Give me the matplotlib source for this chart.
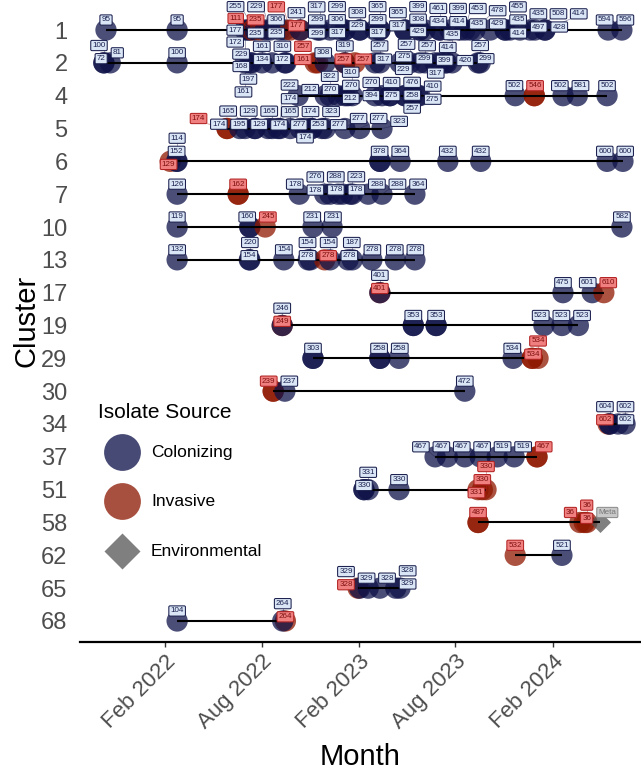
import numpy as np
import pandas as pd
import matplotlib
matplotlib.use("Agg")
import matplotlib.pyplot as plt
import matplotlib.dates as mdates

plt.rcParams['font.family'] = ['Liberation Sans', 'DejaVu Sans']

# ---------------- data ----------------
cluster_order = [1, 2, 4, 5, 6, 7, 10, 13, 17, 19, 29, 30, 34, 37, 51, 58, 62, 65, 68]

point_cluster = ([1] * 49 + [2] * 31 + [4] * 21 + [5] * 19 + [6] * 9 + [7] * 12 + [10] * 6 +
                 [13] * 13 + [17] * 5 + [19] * 7 + [29] * 6 + [30] * 3 + [34] * 4 + [37] * 7 +
                 [51] * 6 + [58] * 5 + [62] * 2 + [65] * 6 + [68] * 3)

point_date = [
    # cluster 1
    '2021-10-12', '2022-02-23', '2022-07-01', '2022-07-07', '2022-07-10', '2022-07-14', '2022-07-20',
    '2022-07-29', '2022-08-08', '2022-08-17', '2022-09-05', '2022-09-14', '2022-09-24', '2022-10-13',
    '2022-10-13', '2022-11-15', '2022-11-19', '2022-12-08', '2022-12-27', '2023-01-05', '2023-01-05',
    '2023-02-02', '2023-02-02', '2023-03-03', '2023-03-12', '2023-03-12', '2023-04-28', '2023-04-28',
    '2023-05-26', '2023-05-26', '2023-06-05', '2023-07-03', '2023-07-03', '2023-07-22', '2023-08-10',
    '2023-08-19', '2023-08-29', '2023-09-07', '2023-10-06', '2023-11-03', '2023-11-03', '2023-11-12',
    '2023-12-01', '2023-12-20', '2023-12-29', '2024-01-17', '2024-01-17', '2024-05-15', '2024-06-10',
    # cluster 2
    '2021-10-08', '2021-10-08', '2021-10-20', '2022-02-23', '2022-07-01', '2022-07-10', '2022-07-14',
    '2022-08-02', '2022-08-21', '2022-09-14', '2022-09-16', '2022-11-10', '2022-11-15', '2022-11-29',
    '2023-01-05', '2023-01-05', '2023-01-24', '2023-03-03', '2023-03-12', '2023-04-19', '2023-04-28',
    '2023-05-08', '2023-05-26', '2023-06-05', '2023-06-24', '2023-07-03', '2023-07-13', '2023-07-16',
    '2023-07-26', '2023-09-13', '2023-09-17',
    # cluster 4
    '2022-10-09', '2022-11-29', '2022-12-08', '2022-12-23', '2023-01-05', '2023-01-11', '2023-01-19',
    '2023-03-03', '2023-03-16', '2023-03-31', '2023-03-31', '2023-04-28', '2023-04-28', '2023-05-12',
    '2023-05-23', '2023-05-26', '2023-11-22', '2023-12-28', '2024-02-20', '2024-03-18', '2024-05-13',
    # cluster 5
    '2022-05-28', '2022-06-21', '2022-07-01', '2022-07-19', '2022-07-20', '2022-08-13', '2022-08-21',
    '2022-09-01', '2022-09-05', '2022-09-24', '2022-10-13', '2022-10-22', '2022-11-03', '2022-11-04',
    '2022-11-23', '2022-11-29', '2023-01-05', '2023-02-02', '2023-03-16',
    # cluster 6
    '2022-02-10', '2022-02-22', '2022-02-23', '2023-03-12', '2023-04-19', '2023-07-18', '2023-09-18',
    '2024-05-13', '2024-06-12',
    # cluster 7
    '2022-02-23', '2022-06-18', '2022-10-11', '2022-11-28', '2022-12-08', '2022-12-23', '2023-01-01',
    '2023-01-15', '2023-01-19', '2023-02-18', '2023-03-16', '2023-05-17',
    # cluster 10
    '2022-02-23', '2022-07-10', '2022-08-08', '2022-11-06', '2022-12-12', '2024-06-10',
    # cluster 13
    '2022-02-23', '2022-07-09', '2022-07-10', '2022-09-12', '2022-10-28', '2022-11-01', '2022-11-28',
    '2022-12-08', '2023-01-11', '2023-01-19', '2023-02-25', '2023-04-10', '2023-05-17',
    # cluster 17
    '2023-03-12', '2023-03-12', '2024-02-20', '2024-04-15', '2024-05-07',
    # cluster 19
    '2022-09-09', '2022-09-09', '2023-05-14', '2023-06-26', '2024-01-15', '2024-02-18', '2024-03-20',
    # cluster 29
    '2022-11-06', '2023-03-12', '2023-04-17', '2023-11-18', '2023-12-24', '2024-01-04',
    # cluster 30
    '2022-08-23', '2022-09-14', '2023-08-19',
    # cluster 34
    '2024-05-15', '2024-05-18', '2024-06-03', '2024-06-16',
    # cluster 37
    '2023-06-24', '2023-07-17', '2023-08-19', '2023-09-17', '2023-10-19', '2023-11-20', '2024-01-02',
    # cluster 51
    '2023-02-10', '2023-02-18', '2023-04-17', '2023-09-13', '2023-09-21', '2023-09-28',
    # cluster 58
    '2023-09-13', '2024-03-23', '2024-03-31', '2024-04-05', '2024-04-30',
    # cluster 62
    '2023-11-22', '2024-02-18',
    # cluster 65
    '2023-01-30', '2023-02-02', '2023-02-18', '2023-03-12', '2023-04-11', '2023-04-19',
    # cluster 68
    '2022-02-23', '2022-09-15', '2022-09-10',
]

point_label = [
    # 1
    '95', '95', '229', '172', '177', '111', '255', '235', '235', '229', '235', '306', '177', '177',
    '241', '299', '317', '299', '317', '306', '299', '229', '308', '317', '299', '365', '317', '365',
    '429', '308', '399', '434', '461', '399', '414', '453', '435', '478', '429', '414', '435', '455',
    '435', '497', '508', '428', '414', '594', '596',
    # 2
    '72', '100', '81', '100', '161', '197', '168', '161', '134', '172', '310', '161', '257', '308',
    '257', '319', '257', '317', '257', '229', '275', '257', '299', '257', '317', '399', '420', '414',
    '435', '299', '257',
    # 4
    '222', '212', '322', '270', '212', '270', '310', '394', '270', '275', '410', '257', '476', '258',
    '275', '410', '502', '546', '502', '581', '502',
    # 5
    '174', '174', '165', '195', '129', '129', '165', '174', '174', '165', '277', '174', '253', '174',
    '277', '323', '277', '277', '323',
    # 6
    '129', '152', '114', '378', '364', '432', '432', '600', '600',
    # 7
    '126', '162', '178', '178', '276', '178', '288', '178', '223', '288', '288', '364',
    # 10
    '119', '160', '245', '231', '231', '582',
    # 13
    '132', '154', '220', '154', '278', '154', '278', '154', '278', '187', '278', '278', '278',
    # 17
    '401', '401', '475', '601', '610',
    # 19
    '249', '246', '353', '353', '523', '523', '523',
    # 29
    '303', '258', '258', '534', '534', '534',
    # 30
    '239', '237', '472',
    # 34
    '602', '604', '602', '602',
    # 37
    '467', '467', '467', '467', '519', '519', '467',
    # 51
    '330', '331', '330', '331', '330', '330',
    # 58
    '487', '36', '36', '36', 'Meta',
    # 62
    '532', '521',
    # 65
    '328', '329', '329', '328', '329', '328',
    # 68
    '104', '264', '264',
]

# C = Colonizing, I = Invasive, E = Environmental (one letter per point, per cluster)
point_source = list(''.join([
    'CCCCCICI' + 'CCCC' + 'II' + 'C' * 35,   # 1
    'C' * 11 + 'IICICI' + 'C' * 14,          # 2
    'C' * 17 + 'I' + 'CCC',                  # 4
    'I' + 'C' * 18,                          # 5
    'I' + 'C' * 8,                           # 6
    'CI' + 'C' * 10,                         # 7
    'CCICCC',                                # 10
    'CCCCCCICCCCCC',                         # 13
    'ICCCI',                                 # 17
    'ICCCCCC',                               # 19
    'CCCCII',                                # 29
    'ICC',                                   # 30
    'ICCC',                                  # 34
    'CCCCCCI',                               # 37
    'CCCIII',                                # 51
    'IIIIE',                                 # 58
    'IC',                                    # 62
    'ICCCCC',                                # 65
    'CIC',                                   # 68
]))

# isolates sharing the same date / position
point_count = [int(c) for c in ''.join([
    '1' * 49,                                # 1
    '1' * 31,                                # 2
    '1' * 17 + '2' + '111',                  # 4
    '2' + '1' * 18,                          # 5
    '111211111',                             # 6
    '12' + '1' * 10,                         # 7
    '121111',                                # 10
    '1' * 13,                                # 13
    '11111',                                 # 17
    '1122111',                               # 19
    '221121',                                # 29
    '211',                                   # 30
    '1211',                                  # 34
    '1111112',                               # 37
    '211111',                                # 51
    '21111',                                 # 58
    '11',                                    # 62
    '111111',                                # 65
    '111',                                   # 68
])]

tick_dates = ['2022-02-01', '2022-08-01', '2023-02-01', '2023-08-01', '2024-02-01']
tick_labels = ['Feb 2022', 'Aug 2022', 'Feb 2023', 'Aug 2023', 'Feb 2024']
legend_names = {'C': 'Colonizing', 'I': 'Invasive', 'E': 'Environmental'}

# ---------------- styles ----------------
pt_color = {'C': '#0E1248', 'I': '#8F1800', 'E': '#555555'}
lab_fc = {'C': '#DAE6F5', 'I': '#F08080', 'E': '#C8C8C8'}
lab_ec = {'C': '#1A1F4E', 'I': '#B22222', 'E': '#8C8C8C'}
lab_tc = {'C': '#1A1F4E', 'I': '#7F1010', 'E': '#777777'}
leg_color = {'C': '#474A74', 'I': '#A8503F', 'E': '#7F7F7F'}

W_PX, H_PX = 641, 771
fig = plt.figure(figsize=(W_PX / 100, H_PX / 100), dpi=100)
ax = fig.add_axes([80 / W_PX, 129 / H_PX, 561 / W_PX, 642 / H_PX])

row_of = {c: i for i, c in enumerate(cluster_order)}
x = mdates.date2num(pd.to_datetime(point_date))
y = np.array([row_of[c] for c in point_cluster], dtype=float)
src = np.array(point_source)
cnt = np.array(point_count)
N = len(x)

ax.set_xlim(mdates.date2num(pd.Timestamp('2021-08-24')), mdates.date2num(pd.Timestamp('2024-07-16')))
ax.set_ylim(18.64, -0.914)

# cluster span lines
for c in cluster_order:
    sel = np.array(point_cluster) == c
    ax.plot([x[sel].min(), x[sel].max()], [row_of[c]] * 2, color='black', lw=1.5,
            zorder=4, solid_capstyle='butt')

# points (repeated for multiple isolates)
circ = src != 'E'
xs = np.repeat(x[circ], cnt[circ])
ys = np.repeat(y[circ], cnt[circ])
cs = np.repeat(np.array([pt_color[s] for s in src[circ]]), cnt[circ])
ax.scatter(xs, ys, s=235, c=list(cs), alpha=0.75, linewidths=0, zorder=3)
env = src == 'E'
ax.scatter(np.repeat(x[env], cnt[env]), np.repeat(y[env], cnt[env]), s=115, marker='D',
           c=pt_color['E'], alpha=0.75, linewidths=0, zorder=3)

# axes styling
for sp in ['top', 'right', 'left']:
    ax.spines[sp].set_visible(False)
ax.spines['bottom'].set_linewidth(1.6)
ax.spines['bottom'].set_color('black')
ax.set_yticks(range(len(cluster_order)))
ax.set_yticklabels([str(c) for c in cluster_order], fontsize=17, color='#4D4D4D')
ax.tick_params(axis='y', length=0, pad=9)
ax.set_xticks(mdates.date2num(pd.to_datetime(tick_dates)))
ax.set_xticklabels(tick_labels, fontsize=16, color='#4D4D4D', rotation=45,
                   ha='right', va='top', rotation_mode='anchor')
ax.tick_params(axis='x', length=3.5, width=1, color='#333333', pad=3)
fig.text(27 / W_PX, 1 - 321 / H_PX, 'Cluster', rotation=90, ha='center', va='center', fontsize=21)
fig.text(360 / W_PX, 1 - 757 / H_PX, 'Month', ha='center', va='center', fontsize=21)

# ---------------- repelled labels ----------------
texts = []
for i in range(N):
    s = src[i]
    t = ax.text(x[i], y[i], point_label[i], fontsize=5.8, ha='center', va='center',
                color=lab_tc[s], zorder=7,
                bbox=dict(boxstyle='round,pad=0.2,rounding_size=0.15', fc=lab_fc[s],
                          ec=lab_ec[s], lw=0.75))
    texts.append(t)
fig.canvas.draw()
renderer = fig.canvas.get_renderer()
sizes = np.array([[b.width, b.height] for b in
                  (t.get_bbox_patch().get_window_extent(renderer) for t in texts)])

disp = ax.transData.transform(np.column_stack([x, y]))
T = disp + np.array([0.0, 10.0])
P = T.copy()
Wb = sizes[:, 0] + 4.0
Hb = sizes[:, 1] + 3.0
PT = 7.0  # obstacle size around each point centre (px)
idx = np.arange(N)
tie = np.sign(idx[:, None] - idx[None, :]).astype(float)
x0, y0, x1, y1 = ax.bbox.extents
n_iter = 2400
for it in range(n_iter):
    dx = P[:, 0][:, None] - P[:, 0][None, :]
    dy = P[:, 1][:, None] - P[:, 1][None, :]
    ox = (Wb[:, None] + Wb[None, :]) / 2 - np.abs(dx)
    oy = (Hb[:, None] + Hb[None, :]) / 2 - np.abs(dy)
    m = (ox > 0) & (oy > 0)
    np.fill_diagonal(m, False)
    sx = np.where(dx != 0, np.sign(dx), tie)
    sy = np.where(dy != 0, np.sign(dy), tie)
    usey = oy <= ox
    fx = np.where(m & ~usey, ox * sx, 0).sum(1)
    fy = np.where(m & usey, oy * sy, 0).sum(1)
    if it < 1400:
        # labels avoid point centres (early phase only)
        qx = P[:, 0][:, None] - disp[:, 0][None, :]
        qy = P[:, 1][:, None] - disp[:, 1][None, :]
        px_ov = (Wb[:, None] + PT) / 2 - np.abs(qx)
        py_ov = (Hb[:, None] + PT) / 2 - np.abs(qy)
        mq = (px_ov > 0) & (py_ov > 0)
        qsy = np.where(qy != 0, np.sign(qy), 1.0)
        qsx = np.where(qx != 0, np.sign(qx), 1.0)
        quy = py_ov <= px_ov
        fx += 0.25 * np.where(mq & ~quy, px_ov * qsx, 0).sum(1)
        fy += 0.25 * np.where(mq & quy, py_ov * qsy, 0).sum(1)
    P[:, 0] += 0.2 * fx
    P[:, 1] += 0.2 * fy
    P += (0.008 if it < 1400 else 0.002) * (T - P)
    P[:, 0] = np.clip(P[:, 0], x0 + Wb / 2, x1 - Wb / 2)
    P[:, 1] = np.clip(P[:, 1], y0 + Hb / 2, y1 - Hb / 2)

inv = ax.transData.inverted()
for i, t in enumerate(texts):
    t.set_position(inv.transform(P[i]))
    # segment from point to label box if far
    px, py = disp[i]
    cx = np.clip(px, P[i, 0] - sizes[i, 0] / 2, P[i, 0] + sizes[i, 0] / 2)
    cy = np.clip(py, P[i, 1] - sizes[i, 1] / 2, P[i, 1] + sizes[i, 1] / 2)
    if np.hypot(px - cx, py - cy) > 6:
        a = inv.transform([[px, py], [cx, cy]])
        ax.plot(a[:, 0], a[:, 1], color=lab_ec[src[i]], lw=0.6, alpha=0.45, zorder=5)

# ---------------- legend ----------------
lax = fig.add_axes([0, 0, 1, 1])
lax.set_xlim(0, W_PX)
lax.set_ylim(H_PX, 0)
lax.axis('off')
lax.text(98, 413, 'Isolate Source', fontsize=15, ha='left', va='center')
for k, (code, yy) in enumerate([('C', 452), ('I', 501), ('E', 551)]):
    if code == 'E':
        lax.plot([122], [yy], marker='D', markersize=18.5, color=leg_color[code], mec='none')
    else:
        lax.plot([122], [yy], marker='o', markersize=26.5, color=leg_color[code], mec='none')
    lax.text(151, yy, legend_names[code], fontsize=12.5, ha='left', va='center')

fig.savefig('out.png', dpi=100)
